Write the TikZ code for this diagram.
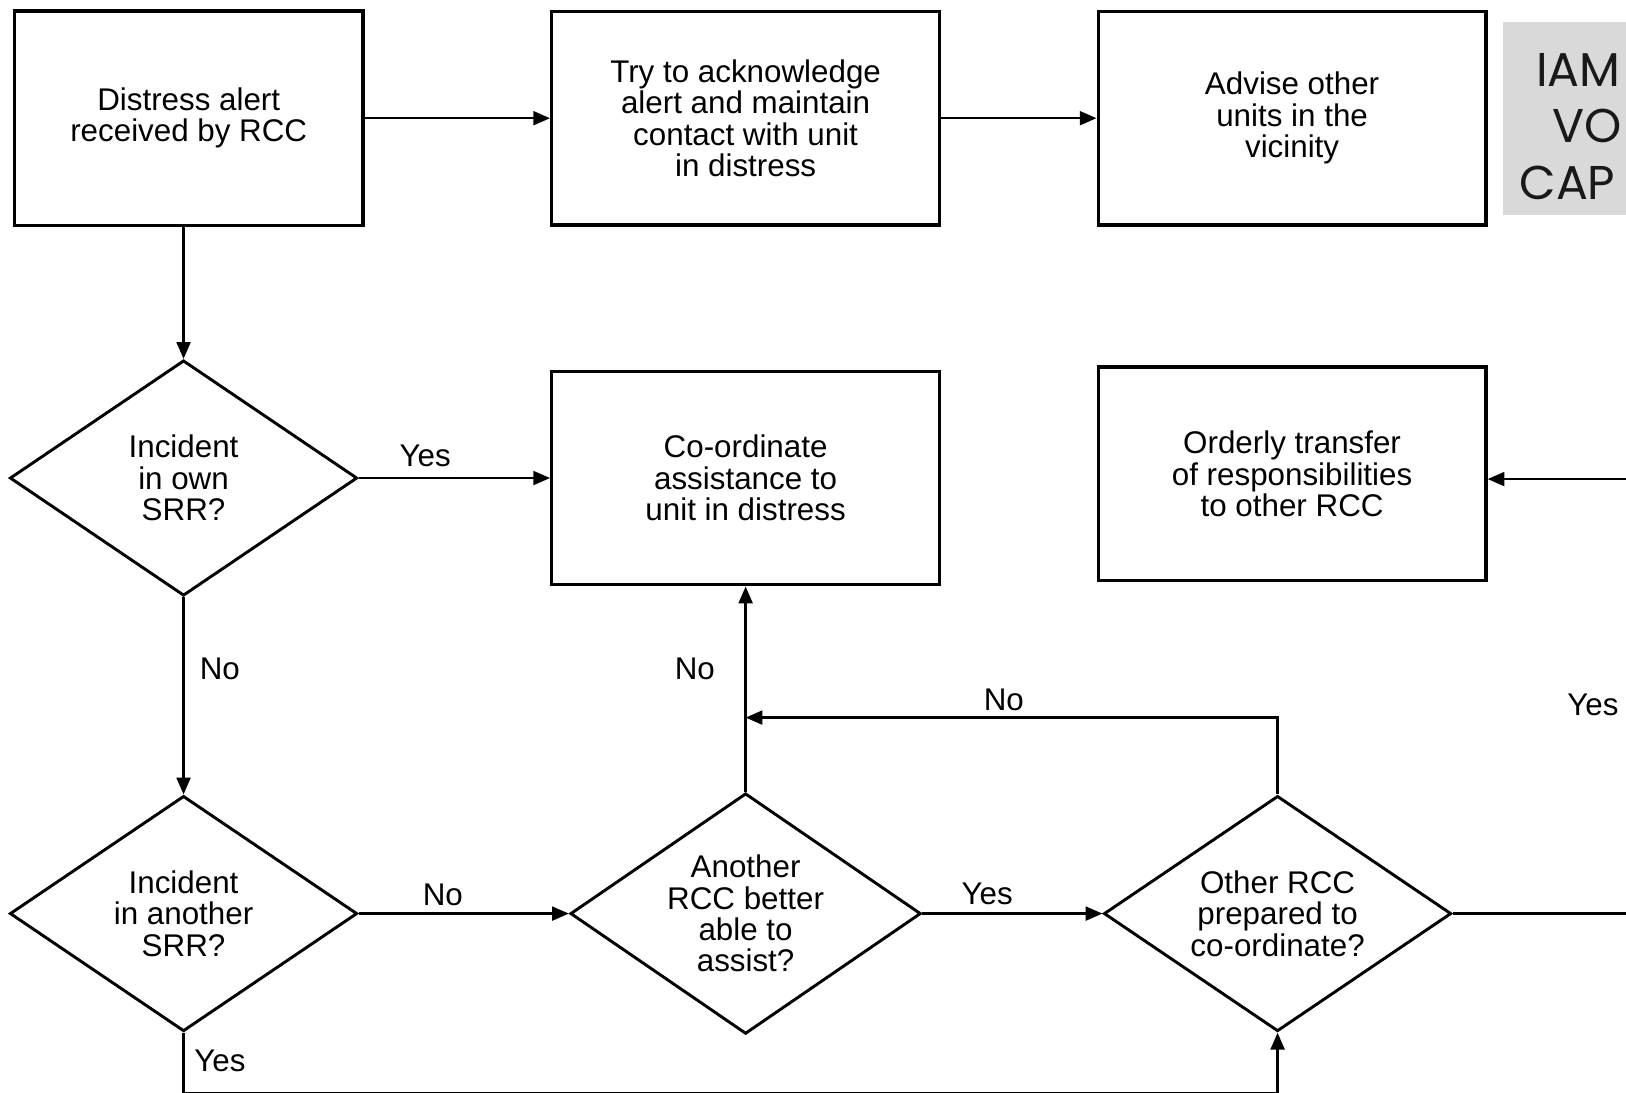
\documentclass[tikz,border=0pt]{standalone}
\usepackage{fontspec}
\setmainfont{Liberation Sans}
\newfontfamily\logofont{Poppins}
\usetikzlibrary{shapes.geometric,arrows.meta}

\begin{document}
\begin{tikzpicture}[>={Triangle[length=4.6pt,width=3.8pt]}, line width=0.7pt]

\useasboundingbox (0,0) rectangle (15.68,10.54);

\tikzstyle{every node} = [font=\fontsize{8.6}{8.6}\selectfont, align=center]
\tikzstyle{block} = [rectangle, draw, line width=0.9pt, inner sep=0pt, minimum width=3.74cm, minimum height=2.06cm]
\tikzstyle{choice} = [diamond, draw, line width=0.8pt, aspect=1.5, inner sep=0pt, minimum width=3.35cm, minimum height=2.27cm]

% top row
\node[block, minimum width=3.36cm, minimum height=2.07cm] (a) at (1.82,9.40) {Distress alert\\received by RCC};
\node[block] (b) at (7.19,9.40) {Try to acknowledge\\alert and maintain\\contact with unit\\in distress};
\node[block] (c) at (12.46,9.40) {Advise other\\units in the\\vicinity};

\fill[gray!30] (14.49,10.33) rectangle (16.0,8.47);
\node[anchor=west, align=left, inner sep=0pt, text=black!90, font=\logofont\fontsize{13}{15.6}\selectfont] (logo) at (14.64,9.32) {\hspace*{0.16cm}IAM\\\hspace*{0.32cm}VO\\CAP};

% middle row
\node[choice] (d) at (1.77,5.93) {Incident\\in own\\SRR?};
\node[block] (e) at (7.19,5.93) {Co-ordinate\\assistance to\\unit in distress};
\node[block] (f) at (12.46,5.97) {Orderly transfer\\of responsibilities\\to other RCC};

% bottom row
\node[choice] (g) at (1.77,1.73) {Incident\\in another\\SRR?};
\node[choice, minimum width=3.38cm, minimum height=2.32cm] (h) at (7.19,1.73) {Another\\RCC better\\able to\\assist?};
\node[choice] (i) at (12.32,1.73) {Other RCC\\prepared to\\co-ordinate?};

\coordinate (j) at (7.19,3.62);
\coordinate (k) at (16.0,5.92);
\coordinate (l) at (16.0,1.73);
\coordinate (m) at (1.77,-0.006);
\coordinate (n) at (12.32,-0.006);

% labels
\node (y1) at (4.10,6.14) {Yes};
\node (n1) at (2.12,4.09) {No};
\node (n2) at (4.27,1.91) {No};
\node (n3) at (6.70,4.09) {No};
\node (y2) at (9.52,1.92) {Yes};
\node (n4) at (9.68,3.79) {No};
\node (y3) at (15.36,3.74) {Yes};
\node (y4) at (2.12,0.31) {Yes};

\draw[->] (a) -- (b);
\draw[->] (b) -- (c);
\draw[->] (d.north |- a.south) -- (d.north);
\draw[->] (d) -- (e);
\draw[->] (d) -- (g);
\draw[->] (g) -- (h);
\draw[->] (h) -- (e);
\draw[->] (h) -- (i);
\draw[->] (i.north) |- (j);
\draw[-] (i.east) -- (l);
\draw[->] (k) -- (k -| f.east);
\draw[->] (g.south) -- (m) -- (n) -- (i.south);
\end{tikzpicture}
\end{document}
